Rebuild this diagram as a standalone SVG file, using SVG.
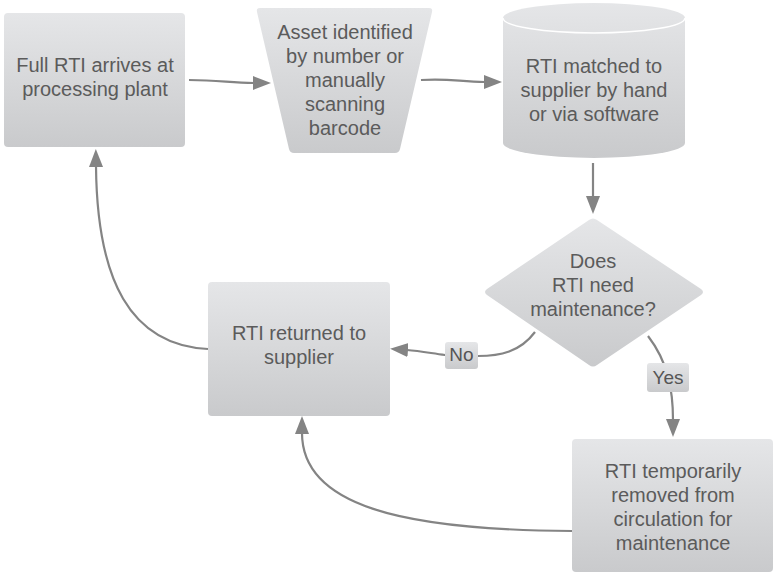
<svg xmlns="http://www.w3.org/2000/svg" width="774" height="573" viewBox="0 0 774 573">
<defs>
<linearGradient id="g" x1="0" y1="0" x2="0" y2="1">
<stop offset="0" stop-color="#e5e6e8"/>
<stop offset="1" stop-color="#c9cacc"/>
</linearGradient>
<marker id="ah" markerUnits="userSpaceOnUse" markerWidth="20" markerHeight="16" refX="1" refY="7" orient="auto">
<path d="M0,0 L18,7 L0,14 Z" fill="#848484"/>
</marker>
<style>
.n{fill:url(#g);}
.t{font-family:"Liberation Sans",Arial,sans-serif;font-size:20px;fill:#5b5b5b;text-anchor:middle;}
.l{font-family:"Liberation Sans",Arial,sans-serif;font-size:19px;fill:#555;text-anchor:middle;}
.c{fill:none;stroke:#848484;stroke-width:2.2;}
.a{marker-end:url(#ah);}
</style>
</defs>
<rect width="774" height="573" fill="#ffffff"/>
<g id="connectors">
<path class="c a" d="M189,80 C220,80 230,83 254,83"/>
<path class="c a" d="M421,80 C450,78 460,82 485,82"/>
<path class="c a" d="M593,163 L593,197"/>
<path class="c a" d="M535,332 C520,352 500,356 478,356 L445,355 C430,353 420,351 407,350"/>
<path class="c a" d="M648,336 C668,362 673,390 673,420"/>
<path class="c a" d="M572,531 C400,530 302,505 302,433"/>
<path class="c a" d="M208,349 C130,345 97,280 96,166"/>
</g>
<g id="node1">
<rect class="n" x="4" y="13" width="181" height="134" rx="4"/>
<text class="t" x="95" y="72">Full RTI arrives at</text>
<text class="t" x="95" y="96">processing plant</text>
</g>
<g id="node2">
<path class="n" d="M260,8 L429,8 Q433,8 432,12 L400,149 Q399,153 395,153 L294,153 Q290,153 289,149 L257,12 Q256,8 260,8 Z"/>
<text class="t" x="345" y="39">Asset identified</text>
<text class="t" x="345" y="63">by number or</text>
<text class="t" x="345" y="87">manually</text>
<text class="t" x="345" y="111">scanning</text>
<text class="t" x="345" y="135">barcode</text>
</g>
<g id="node3">
<path class="n" d="M503,18 L503,143 A91,15 0 0 0 685,143 L685,18 A91,15 0 0 0 503,18 Z"/>
<path d="M503,18 A91,15 0 0 0 685,18" fill="none" stroke="#ffffff" stroke-width="1.5"/>
<text class="t" x="594" y="73">RTI matched to</text>
<text class="t" x="594" y="97">supplier by hand</text>
<text class="t" x="594" y="121">or via software</text>
</g>
<g id="node4">
<path class="n" d="M589,220 Q593,217 597,220 L701,289 Q705,292 701,295 L597,365 Q593,368 589,365 L487,295 Q483,292 487,289 Z"/>
<text class="t" x="593" y="268">Does</text>
<text class="t" x="593" y="292">RTI need</text>
<text class="t" x="593" y="316">maintenance?</text>
</g>
<g id="node5">
<rect class="n" x="208" y="282" width="182" height="134" rx="4"/>
<text class="t" x="299" y="340">RTI returned to</text>
<text class="t" x="299" y="364">supplier</text>
</g>
<g id="node6">
<rect class="n" x="572" y="439" width="201" height="133" rx="4"/>
<text class="t" x="673" y="478">RTI temporarily</text>
<text class="t" x="673" y="502">removed from</text>
<text class="t" x="673" y="526">circulation for</text>
<text class="t" x="673" y="550">maintenance</text>
</g>
<g id="labels">
<rect class="n" x="445" y="342" width="33" height="27" rx="3"/>
<text class="l" x="461.5" y="361">No</text>
<rect class="n" x="647" y="363" width="42" height="29" rx="3"/>
<text class="l" x="668" y="384">Yes</text>
</g>
</svg>
